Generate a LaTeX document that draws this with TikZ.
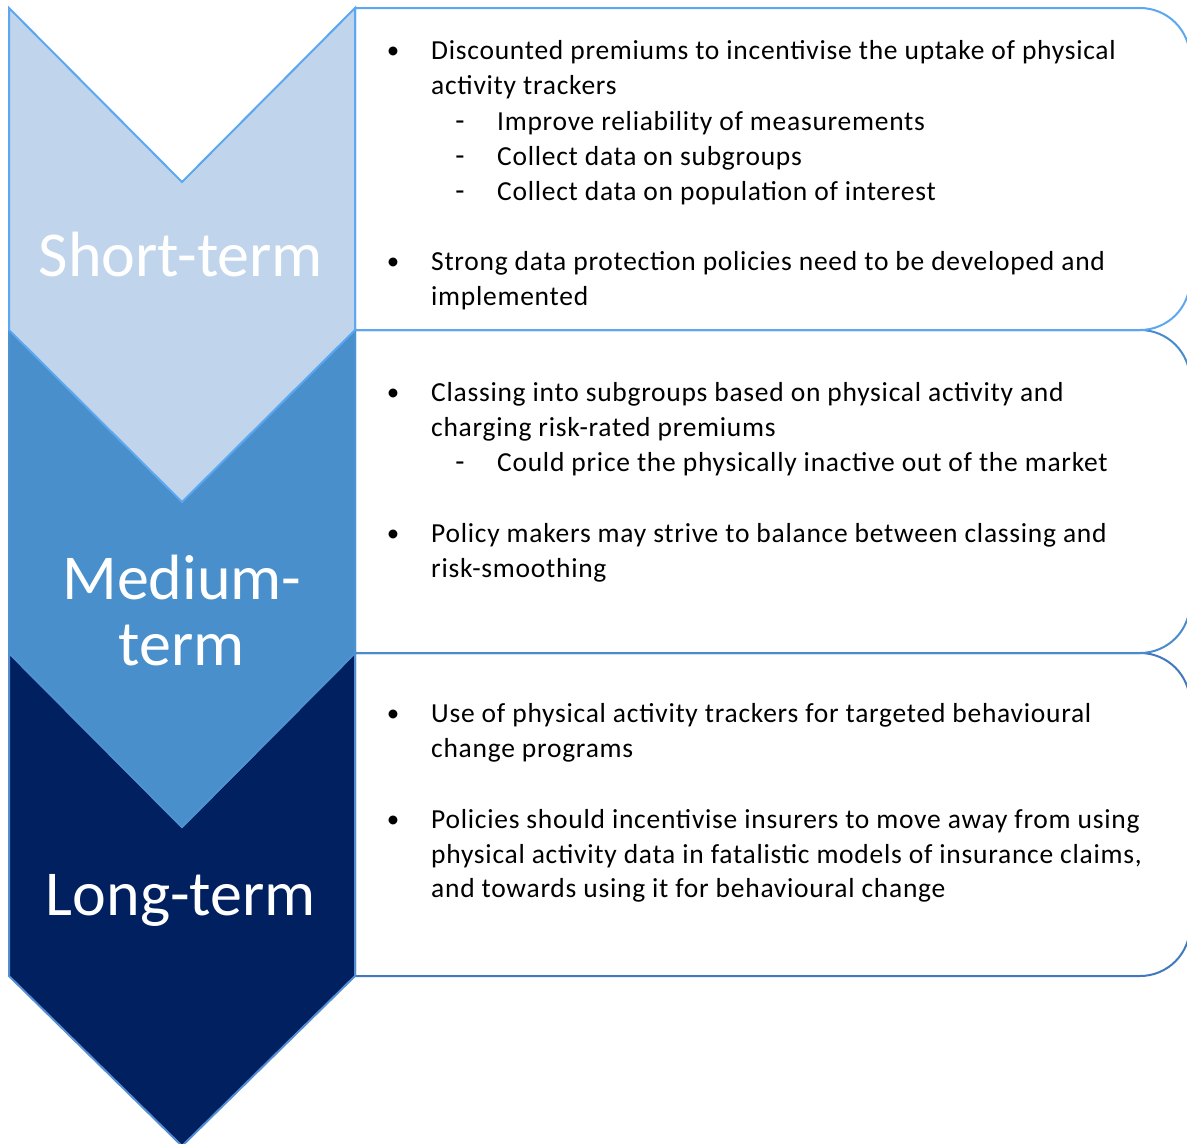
\documentclass[tikz,border=0pt]{standalone}
\usepackage{fontspec}
\setmainfont{Carlito}
\newfontfamily\bodyfont[LetterSpace=2.7]{Carlito}
\definecolor{shortfill}{RGB}{192,212,235}
\definecolor{shortline}{RGB}{91,167,240}
\definecolor{medfill}{RGB}{72,143,204}
\definecolor{medline}{RGB}{78,146,210}
\definecolor{longfill}{RGB}{0,32,96}
\definecolor{longline}{RGB}{84,141,212}
\definecolor{boxa}{RGB}{91,167,240}
\definecolor{boxb}{RGB}{72,140,206}
\definecolor{boxc}{RGB}{65,120,190}
\begin{document}
\begin{tikzpicture}[x=1pt,y=-1pt,
  body/.style={anchor=base west, inner sep=0pt, font=\bodyfont\fontsize{27.5}{30}\selectfont, text=black},
  bulletmark/.style={anchor=base, inner sep=0pt, font=\fontsize{25}{30}\selectfont, text=black},
  dashmark/.style={anchor=base, inner sep=0pt, font=\fontsize{30}{30}\selectfont, text=black},
  phase/.style={anchor=center, inner sep=0pt, align=center, text=white,
    font=\fontsize{64}{68}\selectfont},
  panel/.style={line width=2pt, fill=white}]
\useasboundingbox (0,0) rectangle (1187,1144);
\clip (0,0) rectangle (1187,1144);

% text panels with rounded right corners
\draw[panel, draw=boxc] (355,976) -- (355,653) -- (1140,653)
  arc[start angle=-90, end angle=0, radius=50] -- (1190,926)
  arc[start angle=0, end angle=90, radius=50] -- cycle;
\draw[panel, draw=boxb] (355,653) -- (355,330) -- (1140,330)
  arc[start angle=-90, end angle=0, radius=50] -- (1190,603)
  arc[start angle=0, end angle=90, radius=50] -- cycle;
\draw[panel, draw=boxa] (355,330) -- (355,8) -- (1140,8)
  arc[start angle=-90, end angle=0, radius=50] -- (1190,280)
  arc[start angle=0, end angle=90, radius=50] -- cycle;

% chevrons, bottom one first
\draw[fill=longfill, draw=longline, line width=2pt, line join=miter]
  (9,653) -- (182,827) -- (355,653) -- (355,976) -- (182,1146) -- (9,976) -- cycle;
\draw[fill=medfill, draw=medline, line width=2pt, line join=miter]
  (9,330) -- (182,502) -- (355,330) -- (355,653) -- (182,827) -- (9,653) -- cycle;
\draw[fill=shortfill, draw=shortline, line width=2pt, line join=miter]
  (9,8) -- (182,182) -- (355,8) -- (355,330) -- (182,502) -- (9,330) -- cycle;

% phase labels
\node[phase] (short) at (181,255) {Short-term};
\node[phase] (medium) at (182,611) {Medium-\\[-2pt]term};
\node[phase] (long) at (181,900) {Long-term};

% short-term items
\node[bulletmark] (b1) at (393,58) {•};
\node[body] (t1a) at (431,59) {Discounted premiums to incentivise the uptake of physical};
\node[body] (t1b) at (431,94) {activity trackers};
\node[dashmark] (d1) at (460,130) {-};
\node[body] (t1c) at (497,130) {Improve reliability of measurements};
\node[dashmark] (d2) at (460,165) {-};
\node[body] (t1d) at (497,165) {Collect data on subgroups};
\node[dashmark] (d3) at (460,200) {-};
\node[body] (t1e) at (497,200) {Collect data on population of interest};
\node[bulletmark] (b2) at (393,269) {•};
\node[body] (t2a) at (431,270) {Strong data protection policies need to be developed and};
\node[body] (t2b) at (431,305) {implemented};

% medium-term items
\node[bulletmark] (b3) at (393,400) {•};
\node[body] (t3a) at (431,401) {Classing into subgroups based on physical activity and};
\node[body] (t3b) at (431,436) {charging risk-rated premiums};
\node[dashmark] (d4) at (460,471) {-};
\node[body] (t3c) at (497,471) {Could price the physically inactive out of the market};
\node[bulletmark] (b4) at (393,541) {•};
\node[body] (t4a) at (431,542) {Policy makers may strive to balance between classing and};
\node[body] (t4b) at (431,577) {risk-smoothing};

% long-term items
\node[bulletmark] (b5) at (393,721) {•};
\node[body] (t5a) at (431,722) {Use of physical activity trackers for targeted behavioural};
\node[body] (t5b) at (431,757) {change programs};
\node[bulletmark] (b6) at (393,827) {•};
\node[body] (t6a) at (431,828) {Policies should incentivise insurers to move away from using};
\node[body] (t6b) at (431,863) {physical activity data in fatalistic models of insurance claims,};
\node[body] (t6c) at (431,897) {and towards using it for behavioural change};
\end{tikzpicture}
\end{document}
